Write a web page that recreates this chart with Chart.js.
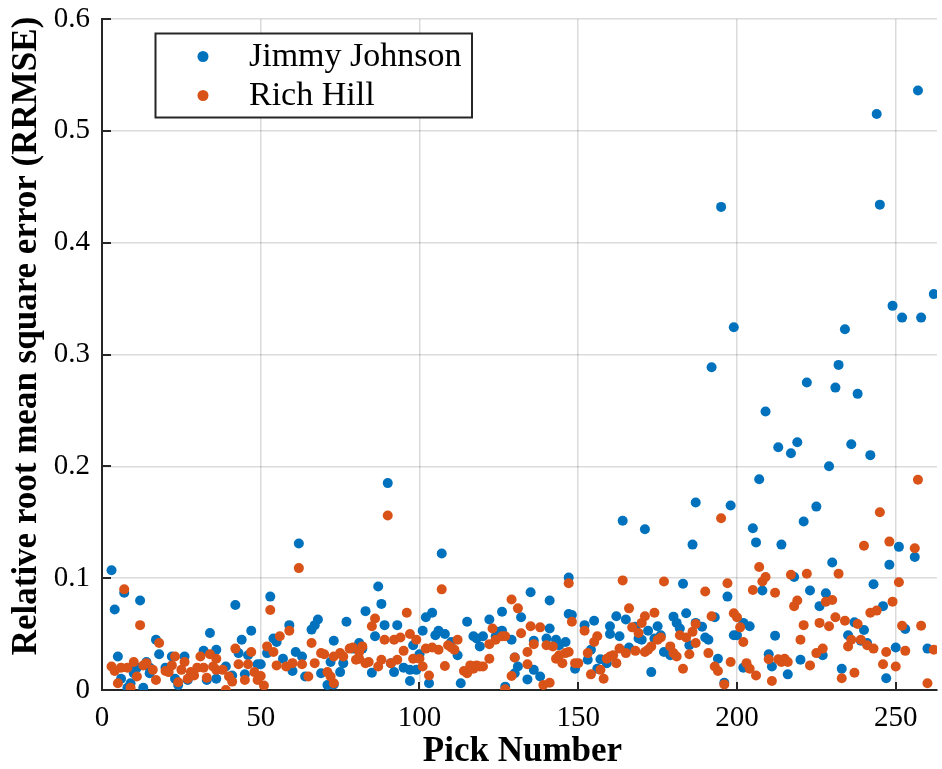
<!DOCTYPE html>
<html>
<head>
<meta charset="utf-8">
<script src="https://cdn.jsdelivr.net/npm/chart.js@4.4.1/dist/chart.umd.min.js"></script>
<style>
  html, body { margin: 0; padding: 0; background: #ffffff; }
  canvas { display: block; }
</style>
</head>
<body>
<canvas id="c" width="942" height="769"></canvas>
<script>
// Pick numbers and RRMSE values, Jimmy Johnson
const jjPick = [
  3, 7, 4, 12, 34, 17, 5, 18, 22, 26, 32, 36, 14, 11, 20, 15, 15, 10, 6, 23, 24, 9, 8, 13, 27, 33, 36,
  62, 42, 53, 47, 44, 43, 46, 54, 55, 59, 66, 67, 68, 73, 52, 50, 49, 39, 41, 45, 57, 60, 61, 63, 64, 69, 72, 71, 73,
  90,
  107, 87, 88, 83, 77, 89, 93, 86, 104, 102, 101, 106, 108, 105, 98, 110, 81, 82, 79, 76, 75, 85, 91, 92, 95, 97, 99, 100, 97, 103,
  147, 135, 141, 126, 132, 122, 115, 147, 148, 141, 126, 125, 124, 117, 118, 120, 129, 119, 136, 140, 143, 144, 146, 112, 130, 131, 136, 130, 134, 138, 113, 127, 149,
  164, 171, 187, 186, 183, 184, 180, 181, 182, 162, 155, 165, 160, 160, 163, 168, 172, 175, 169, 170, 174, 176, 185, 166, 177, 179, 152, 154, 153, 157, 159, 156, 173,
  209, 213, 217, 219, 207, 198, 225, 221, 205, 206, 214, 218, 223, 208, 197, 187, 189, 193, 202, 204, 199, 200, 190, 191, 212, 194, 210, 211, 202, 216, 220, 196,
  236, 242, 229, 251, 256, 248, 230, 243, 228, 226, 246, 237, 240, 253, 235, 239, 241, 227, 250, 260, 233, 247,
  195, 245, 249, 252, 258, 262, 199, 234, 192, 232, 222, 231, 238, 244, 257
];
const jjRrmse = [
  0.107, 0.087, 0.072, 0.080, 0.051, 0.045, 0.030, 0.032, 0.030, 0.030, 0.035, 0.036, 0.025, 0.020, 0.020, 0.020, 0.015, 0.015, 0.010, 0.010, 0.0045, 0.006, 0.002, 0.002, 0.009, 0.009, 0.010,
  0.131, 0.076, 0.0835, 0.053, 0.045, 0.033, 0.031, 0.046, 0.043, 0.058, 0.054, 0.058, 0.063, 0.044, 0.033, 0.023, 0.023, 0.021, 0.013, 0.014, 0.028, 0.017, 0.034, 0.030, 0.012, 0.015, 0.025, 0.0045, 0.005,
  0.185,
  0.122, 0.0925, 0.077, 0.0705, 0.061, 0.058, 0.058, 0.048, 0.069, 0.065, 0.053, 0.053, 0.050, 0.049, 0.040, 0.043, 0.042, 0.037, 0.037, 0.024, 0.016, 0.0155, 0.024, 0.016, 0.020, 0.018, 0.018, 0.032, 0.008, 0.006,
  0.1005, 0.0874, 0.080, 0.070, 0.065, 0.063, 0.061, 0.068, 0.067, 0.055, 0.053, 0.052, 0.048, 0.048, 0.046, 0.048, 0.045, 0.039, 0.044, 0.046, 0.045, 0.040, 0.043, 0.031, 0.029, 0.021, 0.018, 0.015, 0.0095, 0.012, 0.006, 0.003, 0.019,
  0.1514, 0.1437, 0.1676, 0.130, 0.095, 0.0686, 0.0656, 0.060, 0.055, 0.066, 0.062, 0.063, 0.057, 0.050, 0.048, 0.0566, 0.053, 0.057, 0.046, 0.045, 0.046, 0.049, 0.040, 0.038, 0.034, 0.031, 0.058, 0.036, 0.027, 0.0275, 0.024, 0.019, 0.016,
  0.249, 0.217, 0.2117, 0.2215, 0.1885, 0.165, 0.164, 0.1506, 0.1446, 0.132, 0.130, 0.101, 0.089, 0.089, 0.0835, 0.060, 0.0566, 0.065, 0.060, 0.057, 0.049, 0.049, 0.047, 0.045, 0.0486, 0.028, 0.032, 0.021, 0.020, 0.014, 0.027, 0.0065,
  0.2198, 0.210, 0.200, 0.128, 0.119, 0.112, 0.114, 0.0945, 0.0865, 0.075, 0.075, 0.0605, 0.0537, 0.0546, 0.049, 0.044, 0.042, 0.031, 0.038, 0.037, 0.019, 0.0105,
  0.432, 0.434, 0.3435, 0.333, 0.333, 0.354, 0.3244, 0.3226, 0.2886, 0.2907, 0.275, 0.2704, 0.2648, 0.515, 0.536
];

// Pick numbers and RRMSE values, Rich Hill
const rhPick = [
  7, 12, 18, 3, 4, 6, 8, 10, 13, 14, 16, 20, 21, 22, 23, 25, 26, 28, 29, 30, 31, 32, 34, 35, 36, 11, 5, 9, 17, 24, 27, 33, 36,
  62, 53, 59, 56, 52, 54, 42, 47, 43, 46, 38, 40, 41, 45, 48, 49, 50, 51, 39, 55, 58, 60, 63, 66, 65, 67, 69, 70, 71, 73, 72,
  90,
  107, 96, 86, 85, 89, 92, 94, 97, 99, 95, 78, 79, 82, 81, 75, 76, 80, 81, 83, 84, 88, 87, 91, 93, 98, 100, 101, 102, 104, 106, 109, 110, 111, 108, 103, 73,
  147, 129, 131, 148, 135, 138, 123, 132, 126, 127, 124, 122, 112, 136, 140, 142, 143, 144, 146, 147, 145, 134, 130, 134, 122, 120, 118, 117, 116, 116, 114, 115, 117, 119, 129, 139, 141, 127, 149,
  164, 177, 166, 174, 171, 170, 167, 152, 169, 156, 155, 187, 186, 182, 184, 176, 175, 163, 173, 172, 171, 165, 168, 179, 180, 181, 185, 187, 153, 161, 160, 159, 162, 150, 154, 157, 158, 183,
  195, 207, 209, 208, 217, 222, 197, 190, 205, 212, 219, 218, 199, 200, 192, 201, 202, 221, 220, 191, 193, 194, 198, 203, 204, 206, 210, 213, 215, 216, 214, 223, 225, 211, 196,
  257, 245, 240, 248, 256, 232, 251, 249, 242, 244, 228, 230, 231, 226, 229, 234, 238, 252, 258, 236, 239, 235, 241, 243, 227, 247, 253, 262, 237, 246, 250, 233, 260
];
const rhRrmse = [
  0.090, 0.058, 0.042, 0.021, 0.017, 0.020, 0.020, 0.025, 0.022, 0.024, 0.018, 0.017, 0.016, 0.022, 0.030, 0.018, 0.025, 0.016, 0.013, 0.020, 0.030, 0.020, 0.032, 0.021, 0.028, 0.012, 0.006, 0.002, 0.009, 0.007, 0.010, 0.011, 0.018,
  0.109, 0.0715, 0.053, 0.048, 0.039, 0.034, 0.037, 0.034, 0.023, 0.023, 0.018, 0.012, 0.0075, 0.009, 0.016, 0.009, 0.0125, 0.004, 0.000, 0.022, 0.021, 0.024, 0.023, 0.042, 0.012, 0.024, 0.033, 0.032, 0.016, 0.030, 0.012,
  0.156,
  0.090, 0.069, 0.064, 0.057, 0.045, 0.045, 0.047, 0.050, 0.045, 0.035, 0.037, 0.038, 0.039, 0.034, 0.033, 0.030, 0.027, 0.028, 0.024, 0.025, 0.027, 0.021, 0.024, 0.027, 0.028, 0.028, 0.021, 0.037, 0.038, 0.036, 0.040, 0.038, 0.036, 0.0215, 0.013, 0.006,
  0.0954, 0.081, 0.073, 0.061, 0.057, 0.056, 0.055, 0.0507, 0.048, 0.048, 0.045, 0.041, 0.045, 0.041, 0.040, 0.039, 0.028, 0.031, 0.033, 0.034, 0.024, 0.034, 0.029, 0.023, 0.028, 0.021, 0.022, 0.021, 0.022, 0.019, 0.017, 0.015, 0.019, 0.021, 0.0125, 0.0045, 0.0065, 0.0006, 0.024,
  0.098, 0.097, 0.073, 0.069, 0.066, 0.060, 0.056, 0.053, 0.051, 0.048, 0.043, 0.059, 0.052, 0.049, 0.047, 0.047, 0.045, 0.037, 0.039, 0.036, 0.034, 0.033, 0.035, 0.039, 0.033, 0.030, 0.032, 0.042, 0.033, 0.031, 0.030, 0.028, 0.024, 0.024, 0.014, 0.018, 0.010, 0.019,
  0.1535, 0.110, 0.101, 0.097, 0.103, 0.104, 0.0954, 0.088, 0.0894, 0.087, 0.080, 0.075, 0.0686, 0.065, 0.066, 0.056, 0.043, 0.058, 0.045, 0.033, 0.021, 0.017, 0.025, 0.024, 0.019, 0.013, 0.0275, 0.0275, 0.028, 0.025, 0.025, 0.022, 0.033, 0.008, 0.005,
  0.188, 0.159, 0.129, 0.1327, 0.1267, 0.104, 0.0963, 0.079, 0.069, 0.071, 0.079, 0.0805, 0.065, 0.060, 0.057, 0.062, 0.059, 0.0575, 0.0575, 0.045, 0.045, 0.039, 0.040, 0.037, 0.037, 0.034, 0.035, 0.036, 0.0155, 0.023, 0.021, 0.0105, 0.006
];

const seriesNames = ['Jimmy Johnson', 'Rich Hill'];
const seriesColors = ['#0072BD', '#D95319'];

const xTicks = [0, 50, 100, 150, 200, 250];
const yTicks = [0, 0.1, 0.2, 0.3, 0.4, 0.5, 0.6];
const yTickLabels = ['0', '0.1', '0.2', '0.3', '0.4', '0.5', '0.6'];

const xTitle = 'Pick Number';
const yTitle = 'Relative root mean square error (RRMSE)';

const toPoints = (xs, ys) => xs.map((x, i) => ({ x: x, y: ys[i] }));

const SERIF = '"Liberation Serif", "Times New Roman", serif';
const INK = '#262626';

// Inward tick marks, axis titles and the boxed legend
const decorations = {
  id: 'decorations',
  beforeDatasetsDraw(chart) {
    const { ctx, chartArea: a, scales: { x, y } } = chart;
    ctx.save();
    ctx.strokeStyle = INK;
    ctx.lineWidth = 2;
    ctx.beginPath();
    xTicks.forEach(v => {
      const px = Math.round(x.getPixelForValue(v));
      ctx.moveTo(px, a.bottom);
      ctx.lineTo(px, a.bottom - 8);
    });
    yTicks.forEach(v => {
      const py = Math.round(y.getPixelForValue(v));
      ctx.moveTo(a.left, py);
      ctx.lineTo(a.left + 9, py);
    });
    ctx.stroke();
    ctx.restore();
  },
  afterDraw(chart) {
    const { ctx, chartArea: a } = chart;
    ctx.save();
    ctx.fillStyle = '#000000';
    ctx.font = 'bold 35px ' + SERIF;
    ctx.textAlign = 'center';
    ctx.textBaseline = 'middle';
    ctx.fillText(xTitle, (a.left + a.right) / 2 + 3, 752);
    ctx.translate(27, 336);
    ctx.rotate(-Math.PI / 2);
    ctx.fillText(yTitle, 0, 0);
    ctx.restore();

    // legend
    ctx.save();
    const bx = 155.5, by = 33.5, bw = 316.5, bh = 84;
    ctx.fillStyle = '#ffffff';
    ctx.fillRect(bx, by, bw, bh);
    ctx.strokeStyle = INK;
    ctx.lineWidth = 2;
    ctx.strokeRect(bx, by, bw, bh);
    ctx.font = '34px ' + SERIF;
    ctx.textAlign = 'left';
    ctx.textBaseline = 'middle';
    const rows = [56.5, 95.5];
    chart.data.datasets.forEach((ds, i) => {
      ctx.fillStyle = ds.backgroundColor;
      ctx.beginPath();
      ctx.arc(203, rows[i], 5.5, 0, Math.PI * 2);
      ctx.fill();
      ctx.fillStyle = '#000000';
      ctx.fillText(ds.label, 249, rows[i] + 1);
    });
    ctx.restore();
  }
};

new Chart(document.getElementById('c'), {
  type: 'scatter',
  data: {
    datasets: [
      {
        label: seriesNames[0],
        data: toPoints(jjPick, jjRrmse),
        backgroundColor: seriesColors[0],
        borderWidth: 0,
        pointRadius: 5,
        order: 1
      },
      {
        label: seriesNames[1],
        data: toPoints(rhPick, rhRrmse),
        backgroundColor: seriesColors[1],
        borderWidth: 0,
        pointRadius: 5,
        order: 0
      }
    ]
  },
  options: {
    responsive: false,
    animation: false,
    events: [],
    layout: { padding: { top: 19, right: 0, left: 0, bottom: 0 } },
    plugins: {
      legend: { display: false },
      tooltip: { enabled: false }
    },
    scales: {
      x: {
        type: 'linear',
        min: 0,
        max: 263,
        afterBuildTicks: s => { s.ticks = xTicks.map(v => ({ value: v })); },
        afterFit: s => { s.height = 79; s.paddingLeft = 0; s.paddingRight = 0; },
        grid: { color: 'rgba(0,0,0,0.14)', lineWidth: 1.5, drawTicks: false },
        border: { display: true, color: INK, width: 2 },
        ticks: {
          padding: 11,
          color: '#000000',
          font: { family: SERIF, size: 29 },
          maxRotation: 0,
          callback: v => String(v)
        }
      },
      y: {
        type: 'linear',
        min: 0,
        max: 0.6,
        afterBuildTicks: s => { s.ticks = yTicks.map(v => ({ value: v })); },
        afterFit: s => { s.width = 102; s.paddingTop = 0; s.paddingBottom = 0; },
        grid: { color: 'rgba(0,0,0,0.14)', lineWidth: 1.5, drawTicks: false },
        border: { display: true, color: INK, width: 2 },
        ticks: {
          padding: 12,
          color: '#000000',
          font: { family: SERIF, size: 29 },
          callback: (v, i) => yTickLabels[i]
        }
      }
    }
  },
  plugins: [decorations]
});
</script>
</body>
</html>
